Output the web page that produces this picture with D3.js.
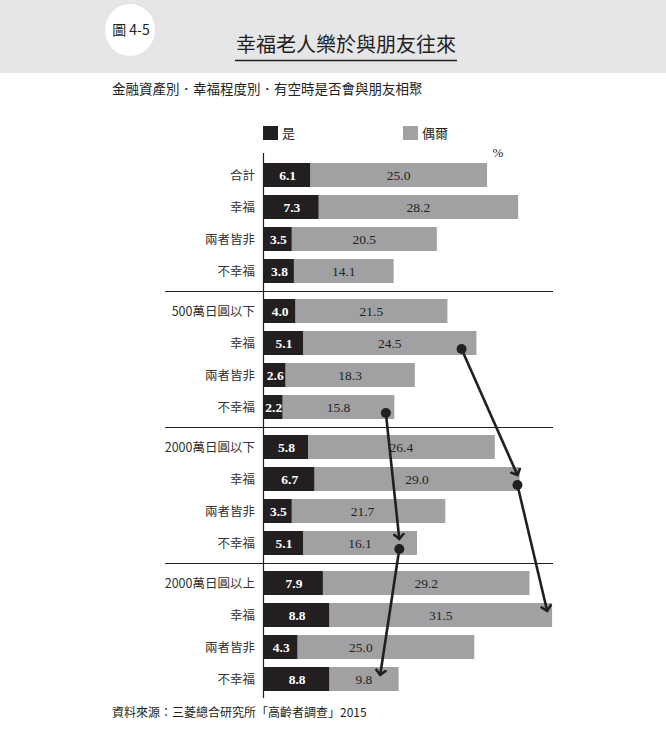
<!DOCTYPE html>
<html>
<head>
<meta charset="utf-8">
<script src="https://cdn.jsdelivr.net/npm/d3@7"></script>
<style>
  body { margin: 0; background: #fff; }
  svg { display: block; }
  .cjk { font-family: "Noto Sans CJK TC", "Noto Sans", sans-serif; }
  .num { font-family: "Liberation Serif", "DejaVu Serif", serif; }
</style>
</head>
<body>
<div id="chart"></div>
<script>
// groups and rows
var groups = ["合計", "500萬日圓以下", "2000萬日圓以下", "2000萬日圓以上"];
var rowNames = ["幸福", "兩者皆非", "不幸福"];
// % 是 (yes) and 偶爾 (sometimes), in row order
var yesValues = [6.1, 7.3, 3.5, 3.8, 4.0, 5.1, 2.6, 2.2, 5.8, 6.7, 3.5, 5.1, 7.9, 8.8, 4.3, 8.8];
var sometimesValues = [25.0, 28.2, 20.5, 14.1, 21.5, 24.5, 18.3, 15.8, 26.4, 29.0, 21.7, 16.1, 29.2, 31.5, 25.0, 9.8];
// arrow chains: row index inside group, then position (%) per group 1..3
var happyArrow = { row: 1, points: [27.5, 35.4, 39.6] };
var unhappyArrow = { row: 3, points: [16.8, 18.7, 16.0] };

var W = 666, H = 734;
var dark = "#231f20", grey = "#a1a1a3";

var svg = d3.select("#chart").append("svg")
    .attr("width", W)
    .attr("height", H);

// header band
svg.append("rect").attr("x", 0).attr("y", 0).attr("width", W).attr("height", 73).attr("fill", "#e6e6e8");
svg.append("ellipse").attr("cx", 130).attr("cy", 30).attr("rx", 25).attr("ry", 26).attr("fill", "#fff");
svg.append("text").attr("class", "cjk")
    .attr("x", 131).attr("y", 35).attr("text-anchor", "middle")
    .style("font-size", "14px").attr("fill", dark)
    .text("圖 4-5");
svg.append("text").attr("class", "cjk")
    .attr("x", 346).attr("y", 52).attr("text-anchor", "middle")
    .style("font-size", "20px").attr("fill", dark)
    .text("幸福老人樂於與朋友往來");
svg.append("line").attr("x1", 235).attr("x2", 457).attr("y1", 60.5).attr("y2", 60.5)
    .attr("stroke", dark).attr("stroke-width", 1.3);

svg.append("text").attr("class", "cjk")
    .attr("x", 112).attr("y", 93.5)
    .style("font-size", "13.5px").attr("fill", dark)
    .text("金融資產別．幸福程度別．有空時是否會與朋友相聚");

// rows
var rows = [];
groups.forEach(function(gName, g) {
    [gName].concat(rowNames).forEach(function(name, r) {
        var i = g * 4 + r;
        rows.push({ i: i, g: g, r: r, name: name, yes: yesValues[i], some: sometimesValues[i] });
    });
});

var axisX = 263;
var x = d3.scaleLinear().domain([0, 40]).range([267, 550]);
var slot = function(g, r) { return g * 4.25 + r; };
var y = d3.scaleLinear().domain([0, 15.75]).range([175, 679]);
var barH = 24;
// the one grey label nudged left so the arrow does not cross it
var labelShift = { 14: -25, 10: -6 };

// legend
var legend = [{ label: "是", color: dark, x: 263 }, { label: "偶爾", color: grey, x: 403 }];
var lg = svg.selectAll(".legend").data(legend).enter().append("g")
    .attr("transform", function(d) { return "translate(" + d.x + ",126)"; });
lg.append("rect").attr("width", 15).attr("height", 14).attr("fill", function(d) { return d.color; });
lg.append("text").attr("class", "cjk")
    .attr("x", 19).attr("y", 12)
    .style("font-size", "13px").attr("fill", dark)
    .text(function(d) { return d.label; });

svg.append("text").attr("class", "num")
    .attr("x", 498).attr("y", 157).attr("text-anchor", "middle")
    .style("font-size", "13px").attr("fill", dark)
    .text("%");

// group separators
svg.selectAll(".sep").data(d3.range(1, groups.length)).enter().append("line")
    .attr("x1", 165).attr("x2", 553)
    .attr("y1", function(g) { return Math.round(y(slot(g, 0) - 0.625)) + 0.5; })
    .attr("y2", function(g) { return Math.round(y(slot(g, 0) - 0.625)) + 0.5; })
    .attr("stroke", dark).attr("stroke-width", 1);

var rowG = svg.selectAll(".row").data(rows).enter().append("g")
    .attr("transform", function(d) { return "translate(0," + y(slot(d.g, d.r)) + ")"; });

rowG.append("rect")
    .attr("x", function(d) { return x(d.yes); })
    .attr("y", -barH / 2)
    .attr("width", function(d) { return x(d.yes + d.some) - x(d.yes); })
    .attr("height", barH)
    .attr("fill", grey);

rowG.append("rect")
    .attr("x", axisX)
    .attr("y", -barH / 2)
    .attr("width", function(d) { return x(d.yes) - axisX; })
    .attr("height", barH)
    .attr("fill", dark);

rowG.append("text").attr("class", "cjk")
    .attr("x", 255).attr("y", 4.5)
    .attr("text-anchor", "end")
    .style("font-size", "12.5px").attr("fill", "#333")
    .text(function(d) { return d.name; });

rowG.append("text").attr("class", "num")
    .attr("x", function(d) { return (axisX + x(d.yes)) / 2 + 1; })
    .attr("y", 5)
    .attr("text-anchor", "middle")
    .style("font-size", "13.5px").style("font-weight", "bold").attr("fill", "#fff")
    .text(function(d) { return d.yes.toFixed(1); });

rowG.append("text").attr("class", "num")
    .attr("x", function(d) { return (x(d.yes) + x(d.yes + d.some)) / 2 + (labelShift[d.i] || 0); })
    .attr("y", 5)
    .attr("text-anchor", "middle")
    .style("font-size", "13.5px").attr("fill", dark)
    .text(function(d) { return d.some.toFixed(1); });

// vertical axis line
svg.append("line").attr("x1", axisX + 0.5).attr("x2", axisX + 0.5).attr("y1", 153).attr("y2", 698)
    .attr("stroke", dark).attr("stroke-width", 1.2);

// arrows
svg.append("defs").append("marker")
    .attr("id", "chev")
    .attr("viewBox", "-6 -6 12 12")
    .attr("refX", 0).attr("refY", 0)
    .attr("markerWidth", 12).attr("markerHeight", 12)
    .attr("markerUnits", "userSpaceOnUse")
    .attr("orient", "auto")
    .append("path")
    .attr("d", "M-5.5,-5.5L0,0L-5.5,5.5")
    .attr("fill", "none").attr("stroke", dark).attr("stroke-width", 2.6);

[happyArrow, unhappyArrow].forEach(function(a) {
    for (var k = 0; k < a.points.length - 1; k++) {
        var g0 = k + 1, g1 = k + 2;
        var x0 = x(a.points[k]), y0 = y(slot(g0, a.row)) + 6;
        var x1 = x(a.points[k + 1]), y1 = y(slot(g1, a.row)) - 4;
        svg.append("line")
            .attr("x1", x0).attr("y1", y0).attr("x2", x1).attr("y2", y1)
            .attr("stroke", dark).attr("stroke-width", 2.6)
            .attr("marker-end", "url(#chev)");
        svg.append("circle").attr("cx", x0).attr("cy", y0).attr("r", 5).attr("fill", dark);
    }
});

// source
svg.append("text").attr("class", "cjk")
    .attr("x", 112).attr("y", 717)
    .style("font-size", "12px").attr("fill", dark)
    .text("資料來源：三菱總合研究所「高齡者調查」2015");
</script>
</body>
</html>
